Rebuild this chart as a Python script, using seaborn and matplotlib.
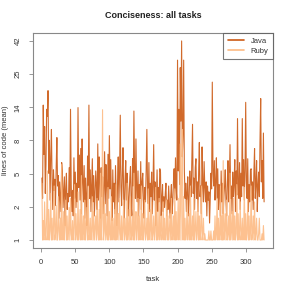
import numpy as np
import pandas as pd
import matplotlib
matplotlib.use("Agg")
import matplotlib.pyplot as plt
import seaborn as sns

# mean lines of code per task (tasks 1..327)
java = [4.2, 2.8, 15, 6.5, 10.5, 3.1, 5.4, 14, 12.5, 19, 4.6, 8.3, 2.7, 6.2, 10, 3.8, 2.2, 4.9, 3.3, 4.1,
        2.4, 5.2, 8.7, 3.6, 4.4, 1.8, 3.9, 2.9, 2.1, 5.6, 4.8, 2.3, 3.2, 4.3, 1.5, 3.4, 4.6, 2.2, 3.1, 2.6,
        5.1, 2.9, 14, 3.7, 2.1, 3.3, 1.9, 6.1, 2.8, 4.7, 2.3, 3.8, 2.6, 14.4, 3.5, 6.4, 2.7, 7.2, 2.0, 8.5,
        3.9, 2.6, 5.3, 1.8, 4.2, 2.9, 1.5, 6.3, 3.6, 15, 2.8, 4.9, 2.1, 3.7, 6.0, 2.6, 4.4, 1.9, 3.2, 4.8,
        3.6, 2.2, 7.8, 2.7, 6.2, 3.9, 1.8, 5.1, 2.9, 4.3, 2.0, 3.6, 6.8, 2.5, 5.4, 3.7, 1.9, 6.5, 2.8, 9.0,
        3.4, 5.9, 2.7, 1.7, 4.9, 2.6, 3.8, 2.0, 5.3, 3.1, 1.5, 3.9, 6.2, 2.6, 4.8, 12.7, 3.5, 2.4, 4.6, 7.3,
        2.9, 1.8, 4.1, 5.8, 2.7, 4.6, 3.4, 1.9, 2.8, 4.2, 5.2, 2.5, 1.9, 6.0, 3.6, 13.6, 4.7, 2.8, 8.5, 3.3,
        2.6, 4.8, 1.9, 3.7, 2.8, 5.7, 2.2, 3.9, 4.6, 2.7, 1.8, 3.5, 2.6, 4.9, 10, 3.4, 2.5, 5.6, 2.1, 3.8,
        2.9, 4.7, 2.0, 3.6, 7.7, 2.7, 3.9, 1.5, 2.8, 4.9, 2.1, 3.5, 2.6, 5.0, 4.7, 1.9, 2.8, 3.7, 2.1, 2.9,
        2.3, 3.1, 3.8, 1.9, 2.7, 2.2, 3.6, 2.5, 1.8, 2.9, 3.7, 2.0, 2.6, 3.9, 5.0, 2.8, 6.1, 3.4, 2.7, 31,
        4.8, 14, 3.7, 27.5, 11.5, 42, 6.2, 9.1, 31, 4.9, 2.8, 3.8, 2.1, 3.2, 4.3, 1.9, 2.7, 4.8, 3.6, 2.9,
        5.8, 10.9, 3.1, 4.2, 2.2, 5.1, 6.0, 2.8, 3.9, 2.1, 4.7, 8.0, 2.9, 3.6, 2.0, 7.4, 3.8, 2.6, 5.7, 3.5,
        2.6, 3.9, 1.9, 3.6, 2.7, 3.2, 1.6, 2.8, 4.6, 3.4, 21.8, 4.7, 3.6, 5.8, 2.7, 3.9, 6.1, 2.8, 5.0, 2.2,
        3.7, 2.9, 1.9, 4.8, 2.6, 3.8, 2.0, 2.9, 3.6, 4.9, 2.7, 1.9, 3.8, 5.8, 2.6, 3.9, 7.7, 2.8, 3.6, 2.0,
        4.7, 2.9, 3.8, 5.9, 2.1, 4.8, 3.0, 12, 3.7, 2.8, 5.6, 2.2, 4.6, 2.9, 12, 3.6, 5.9, 2.7, 4.8, 15.7,
        3.9, 2.8, 6.0, 2.1, 3.7, 2.6, 4.9, 5.0, 2.7, 3.9, 2.2, 4.6, 7.2, 2.8, 3.7, 5.8, 2.1, 3.6, 4.7, 2.9,
        8.2, 16.7, 3.9, 5.8, 2.8, 9.4, 2.6]
ruby = [3.8, 1.0, 1.7, 1.0, 2.6, 1.2, 1.0, 1.9, 4.8, 1.0, 2.2, 1.0, 1.3, 3.1, 1.0, 1.8, 1.0, 1.4, 3.6, 1.0,
        1.2, 2.4, 1.0, 1.0, 2.9, 1.3, 1.0, 1.8, 1.0, 5.4, 1.2, 1.0, 2.1, 1.0, 1.5, 2.7, 1.0, 1.9, 1.0, 1.3,
        2.3, 1.0, 2.8, 1.2, 1.0, 1.7, 1.0, 1.4, 3.7, 1.0, 2.0, 1.2, 1.0, 3.2, 1.0, 1.3, 2.2, 1.0, 4.4, 1.0,
        1.3, 1.9, 1.0, 2.7, 1.0, 1.4, 2.3, 1.0, 3.6, 1.0, 1.2, 1.8, 1.0, 1.3, 2.9, 1.0, 2.1, 1.0, 1.4, 1.9,
        1.0, 2.8, 1.2, 1.0, 2.2, 1.0, 4.6, 1.0, 1.8, 13.9, 1.0, 1.3, 2.6, 1.0, 2.0, 1.2, 1.0, 3.5, 1.0, 2.1,
        1.2, 1.0, 2.9, 1.0, 1.8, 1.3, 1.0, 2.2, 1.0, 3.7, 1.0, 1.4, 2.0, 1.0, 2.8, 1.2, 1.0, 1.9, 1.0, 1.3,
        2.7, 1.0, 1.8, 1.2, 1.0, 3.8, 1.0, 1.3, 2.2, 1.0, 2.9, 1.0, 1.2, 1.9, 1.0, 4.6, 1.0, 1.4, 2.1, 1.0,
        1.3, 2.8, 1.0, 1.9, 1.0, 1.2, 3.6, 1.0, 2.0, 1.0, 1.3, 2.7, 1.0, 1.2, 1.8, 1.0, 3.4, 1.0, 1.3, 2.2,
        1.0, 2.6, 1.0, 1.2, 1.9, 1.0, 1.3, 3.5, 1.0, 2.1, 1.0, 1.2, 2.8, 1.0, 1.3, 1.9, 1.0, 1.2, 2.6, 1.0,
        1.8, 1.0, 1.2, 2.7, 1.0, 1.9, 1.0, 1.3, 2.0, 1.0, 2.8, 1.0, 1.2, 1.9, 1.0, 3.4, 1.0, 2.1, 1.0, 1.4,
        2.8, 1.0, 1.9, 7.8, 1.0, 4.6, 10, 1.0, 2.9, 1.0, 1.8, 1.0, 1.2, 2.7, 1.0, 1.3, 2.0, 1.0, 3.6, 1.0,
        1.2, 1.9, 1.0, 2.8, 1.0, 1.3, 2.1, 1.0, 1.2, 2.7, 1.0, 1.9, 1.0, 1.3, 3.6, 1.0, 1.2, 1.8, 1.0, 1.2,
        1.0, 1.0, 1.0, 1.0, 1.0, 1.3, 1.0, 1.0, 1.3, 1.0, 1.0, 1.0, 1.3, 1.0, 1.9, 1.0, 1.2, 2.8, 1.0, 1.8,
        1.0, 1.2, 3.6, 1.0, 1.9, 1.0, 5.8, 1.0, 1.3, 2.0, 1.0, 2.7, 1.0, 1.2, 1.9, 1.0, 4.6, 1.0, 1.3, 2.1,
        1.0, 2.8, 1.0, 1.9, 1.0, 1.2, 3.7, 1.0, 2.0, 1.0, 1.3, 2.6, 1.0, 1.2, 1.8, 1.0, 1.3, 3.5, 1.0, 2.0,
        1.0, 1.2, 2.7, 1.0, 1.9, 1.0, 1.3, 3.6, 1.0, 1.2, 1.9, 1.0, 2.6, 1.0, 1.2, 1.8, 1.0, 1.0, 1.2, 1.8,
        1.0, 1.0, 1.0, 1.2, 1.0, 1.5, 1.0]
languages = ["Java", "Ruby"]
colors = ["#cc5a14", "#fdbb84"]
x_ticks = [0, 50, 100, 150, 200, 250, 300]

tasks = np.arange(1, len(java) + 1)
df = pd.concat([
    pd.DataFrame({"task": tasks, "loc": java, "lang": "Java"}),
    pd.DataFrame({"task": tasks, "loc": ruby, "lang": "Ruby"}),
])

sns.set_style("white")
plt.rcParams["font.family"] = ["Liberation Sans", "DejaVu Sans"]
fig = plt.figure(figsize=(2.91, 2.91), dpi=100)
ax = fig.add_axes([0.1134, 0.1478, 0.8247, 0.7388])

def fwd(v):
    return np.log(np.asarray(v, dtype=float) + 1)

def inv(t):
    return np.exp(t) - 1

ax.set_yscale("function", functions=(fwd, inv))

sns.lineplot(data=df, x="task", y="loc", hue="lang", hue_order=languages,
             palette=colors, linewidth=0.8, alpha=0.9, legend=False, ax=ax)

# y axis: log(x+1), 7 equally spaced ticks between 1 and the max
lo, hi = fwd(1), fwd(max(java))
tpos = inv(np.linspace(lo, hi, 7))
ax.set_yticks(tpos)
ax.set_yticklabels([str(int(round(t))) for t in tpos], rotation=90,
                   va="center")
pad = (hi - lo) * 0.04
ax.set_ylim(inv(lo - pad), inv(hi + pad))
xpad = (len(java) - 1) * 0.04
ax.set_xlim(1 - xpad, len(java) + xpad)
ax.set_xticks(x_ticks)

ax.tick_params(axis="both", direction="out", length=3, width=0.6,
               color="#888888", labelsize=5.5, labelcolor="#333333", pad=5,
               left=True, bottom=True)
for s in ax.spines.values():
    s.set_color("#888888")
    s.set_linewidth(0.8)

ax.set_xlabel("task", fontsize=5.5, color="#333333", labelpad=7)
ax.set_ylabel("lines of code (mean)", fontsize=5.5, color="#333333",
              labelpad=4)
ax.set_title("Conciseness: all tasks", fontsize=6.5, fontweight="bold",
             color="#222222", pad=11)

handles = [plt.Line2D([], [], color=c, lw=1.2) for c in colors]
leg = ax.legend(handles, languages, loc="upper right", fontsize=5.5,
                frameon=True, fancybox=False, borderaxespad=0,
                handlelength=2.2, borderpad=0.6, labelspacing=0.3)
leg.get_frame().set_edgecolor("#555555")
leg.get_frame().set_linewidth(0.8)
for t in leg.get_texts():
    t.set_color("#333333")

fig.savefig("out.png", dpi=100)
